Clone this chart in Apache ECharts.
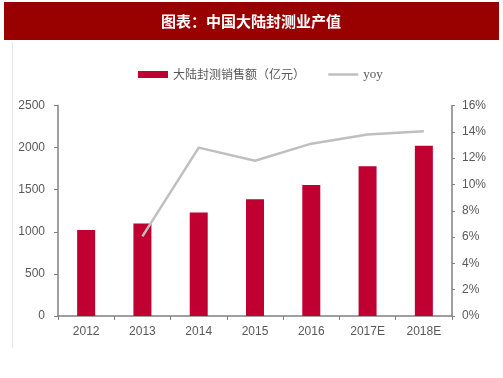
<!DOCTYPE html>
<html>
<head>
<meta charset="utf-8">
<script src="https://cdn.jsdelivr.net/npm/echarts@6/dist/echarts.min.js"></script>
<style>
  html, body { margin: 0; padding: 0; background: #fff; }
  #main { width: 503px; height: 378px; }
</style>
</head>
<body>
<div id="main"></div>
<script>
const years = ['2012', '2013', '2014', '2015', '2016', '2017E', '2018E'];
const sales = [1020, 1100, 1230, 1386, 1555, 1779, 2022];
const yoy = [null, 6.05, 12.8, 11.8, 13.1, 13.8, 14.05];
const leftTicks = [0, 2500, 500];
const rightTicks = [0, 16, 2];

const chartDom = document.getElementById('main');
const myChart = echarts.init(chartDom);

const axisColor = '#808080';
const labelColor = '#595959';

const option = {
  animation: false,
  graphic: [
    {
      type: 'rect',
      shape: { x: 4, y: 2, width: 495, height: 38 },
      style: { fill: '#990000' }
    },
    {
      type: 'text',
      style: {
        x: 251, y: 21,
        text: '图表：中国大陆封测业产值',
        fill: '#fff',
        font: 'bold 15px "Noto Sans CJK SC"',
        textAlign: 'center',
        textVerticalAlign: 'middle'
      }
    },
    {
      type: 'line',
      shape: { x1: 12.5, y1: 42, x2: 12.5, y2: 348 },
      style: { stroke: '#e6e6e6', lineWidth: 1 }
    }
  ],
  legend: {
    top: 63,
    left: 133,
    itemWidth: 30,
    itemHeight: 7,
    itemGap: 22,
    textStyle: { color: labelColor, fontSize: 12, fontFamily: 'Noto Sans CJK SC' },
    data: [
      { name: '大陆封测销售额（亿元）', icon: 'rect' },
      {
        name: 'yoy',
        itemStyle: { color: 'rgba(0,0,0,0)', borderWidth: 0 },
        lineStyle: { color: '#BFBFBF', width: 2.5 },
        textStyle: { fontFamily: 'Liberation Serif', fontSize: 13 }
      }
    ]
  },
  grid: { left: 58, right: 51, top: 105.5, bottom: 62 },
  xAxis: {
    type: 'category',
    data: years,
    axisLine: { lineStyle: { color: axisColor, width: 1.5 } },
    axisTick: { show: true, length: 4, lineStyle: { color: axisColor } },
    axisLabel: { color: labelColor, fontSize: 12, fontFamily: 'Liberation Sans', margin: 10 }
  },
  yAxis: [
    {
      type: 'value',
      min: leftTicks[0],
      max: leftTicks[1],
      interval: leftTicks[2],
      splitLine: { show: false },
      axisLine: { show: true, lineStyle: { color: axisColor, width: 1.5 } },
      axisTick: { show: true, length: 4, lineStyle: { color: axisColor } },
      axisLabel: {
        color: labelColor, fontSize: 12, fontFamily: 'Liberation Sans', margin: 13,
        formatter: v => String(v)
      }
    },
    {
      type: 'value',
      position: 'right',
      min: rightTicks[0],
      max: rightTicks[1],
      interval: rightTicks[2],
      splitLine: { show: false },
      axisLine: { show: true, lineStyle: { color: axisColor, width: 1.5 } },
      axisTick: { show: true, length: 3, lineStyle: { color: axisColor } },
      axisLabel: {
        color: labelColor, fontSize: 12, fontFamily: 'Liberation Sans', margin: 10,
        formatter: '{value}%'
      }
    }
  ],
  series: [
    {
      name: '大陆封测销售额（亿元）',
      type: 'bar',
      barWidth: 18,
      itemStyle: { color: '#C00030' },
      data: sales
    },
    {
      name: 'yoy',
      type: 'line',
      yAxisIndex: 1,
      symbol: 'none',
      lineStyle: { color: '#BFBFBF', width: 2.5 },
      itemStyle: { color: '#BFBFBF' },
      data: yoy
    }
  ]
};

myChart.setOption(option);
</script>
</body>
</html>
